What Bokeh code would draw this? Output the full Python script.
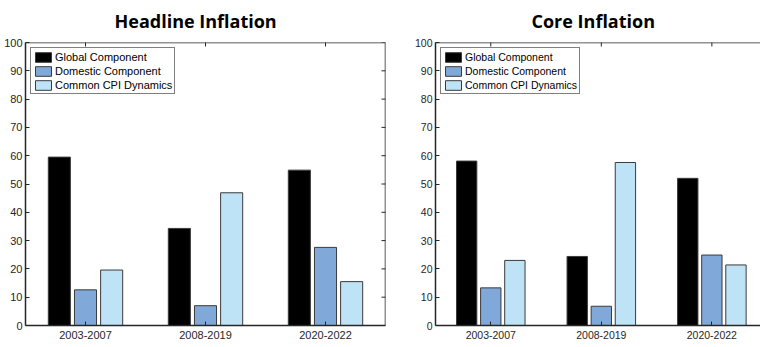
import math
from bokeh.plotting import figure
from bokeh.models import (Range1d, LinearAxis, FixedTicker, Legend, LegendItem,
                          ColumnDataSource, Span)
from bokeh.transform import dodge
from bokeh.layouts import row
from bokeh.embed import file_html
from bokeh.resources import INLINE

periods = ["2003-2007", "2008-2019", "2020-2022"]
series_names = ["Global Component", "Domestic Component", "Common CPI Dynamics"]

headline_global = [59.5, 34.3, 54.9]
headline_domestic = [12.6, 7.0, 27.6]
headline_common = [19.6, 46.9, 15.5]

core_global = [58.1, 24.4, 52.0]
core_domestic = [13.3, 6.8, 24.9]
core_common = [23.0, 57.6, 21.4]

y_ticks = list(range(0, 101, 10))
colors = ["#000000", "#80a8d8", "#bee3f7"]
AX = "#262626"
TICK_FONT = "Liberation Sans"


def make_chart(title, g, d, c, width, height, x_end, fs, min_left, min_right,
               min_top, min_bottom, title_offset, right_border):
    pos = list(range(1, len(periods) + 1))
    src = ColumnDataSource(dict(pos=pos, g=g, d=d, c=c))
    y_lo, y_hi = y_ticks[0], y_ticks[-1]
    p = figure(width=width, height=height, output_backend="svg", toolbar_location=None,
               x_range=Range1d(0.5, x_end), y_range=Range1d(y_lo, y_hi),
               min_border_left=min_left, min_border_right=min_right,
               min_border_top=min_top, min_border_bottom=min_bottom,
               x_axis_type=None, y_axis_type=None)
    p.outline_line_color = None
    p.grid.visible = False

    p.title.text = title
    p.title.text_font = "Open Sans"
    p.title.text_font_style = "bold"
    p.title.text_font_size = "18px"
    p.title.align = "left"
    p.title.vertical_align = "top"
    p.title.offset = title_offset
    p.title.text_color = "black"
    p.title.standoff = 16

    def style(ax):
        ax.axis_line_color = AX
        ax.axis_line_width = 1.5
        ax.major_tick_line_color = AX
        ax.major_tick_line_width = 1
        ax.major_tick_in = 4
        ax.major_tick_out = 0
        ax.minor_tick_in = 0
        ax.minor_tick_out = 0
        ax.minor_tick_line_color = None
        ax.major_label_text_font = TICK_FONT
        ax.major_label_text_color = AX
        ax.major_label_text_font_size = fs
        ax.major_label_standoff = 3
        ax.axis_label_standoff = 0

    xb = LinearAxis(ticker=FixedTicker(ticks=pos),
                    major_label_overrides={k: v for k, v in zip(pos, periods)})
    style(xb)
    xb.major_label_standoff = 5
    p.add_layout(xb, "below")
    yl = LinearAxis(ticker=FixedTicker(ticks=y_ticks))
    style(yl)
    p.add_layout(yl, "left")

    # top border with inward ticks
    p.add_layout(Span(location=y_hi, dimension="width", line_color=AX, line_width=1.5))
    p.scatter(x=pos, y=[y_hi] * len(pos), marker="dash", size=8, angle=math.pi / 2,
              line_color=AX, line_width=1)
    if right_border:
        p.add_layout(Span(location=x_end, dimension="height", line_color=AX, line_width=1.5))
        p.scatter(x=[x_end] * len(y_ticks), y=y_ticks, marker="dash", size=8,
                  line_color=AX, line_width=1)

    w = 0.184
    offs = [-0.218, 0.0, 0.218]
    rs = []
    for col, off, color in zip(["g", "d", "c"], offs, colors):
        r = p.vbar(x=dodge("pos", off, range=p.x_range), top=col, width=w, bottom=0,
                   source=src, fill_color=color, line_color="#3a3a3a", line_width=1)
        rs.append(r)

    legend = Legend(items=[LegendItem(label=n, renderers=[r]) for n, r in zip(series_names, rs)],
                    location="top_left")
    legend.margin = 5
    legend.padding = 2
    legend.spacing = 1
    legend.glyph_width = 20
    legend.glyph_height = 12
    legend.label_height = 13
    legend.label_standoff = 2
    legend.label_text_font = TICK_FONT
    legend.label_text_font_size = fs
    legend.label_text_color = "black"
    legend.border_line_color = "black"
    legend.border_line_width = 1.5
    legend.background_fill_alpha = 1
    p.add_layout(legend)
    return p


left = make_chart("Headline Inflation", headline_global, headline_domestic, headline_common,
                  width=390, height=346, x_end=3.5, fs="11px", min_left=25, min_right=5,
                  min_top=42, min_bottom=0, title_offset=89, right_border=True)
right = make_chart("Core Inflation", core_global, core_domestic, core_common,
                   width=370, height=346, x_end=3.44, fs="10.5px", min_left=45, min_right=0,
                   min_top=40, min_bottom=21, title_offset=96, right_border=False)

layout = row(left, right)
open("out.html", "w").write(file_html(layout, INLINE))
